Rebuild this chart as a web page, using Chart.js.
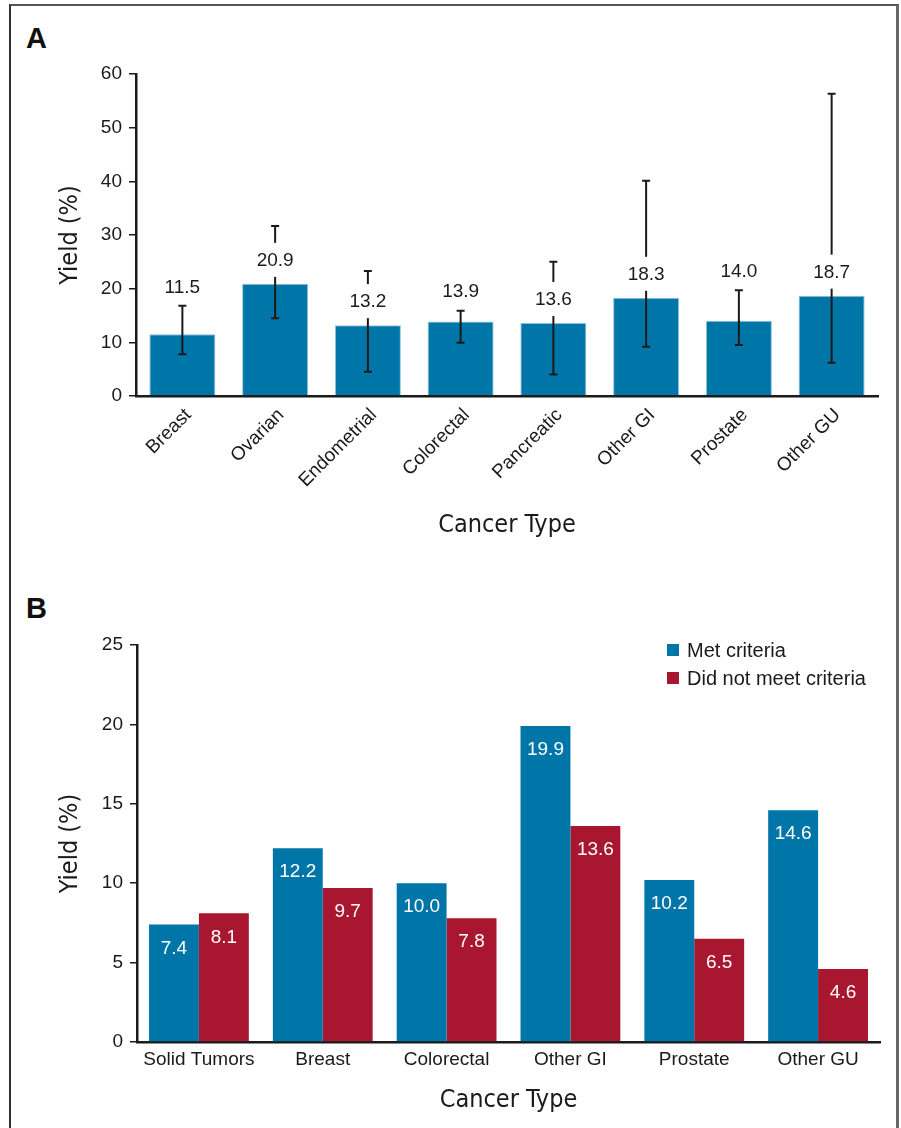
<!DOCTYPE html>
<html><head><meta charset="utf-8">
<script src="https://cdn.jsdelivr.net/npm/chart.js@4.4.0/dist/chart.umd.min.js"></script>
<style>
html,body{margin:0;padding:0;background:#fff;}
#wrap{position:relative;width:901px;height:1128px;overflow:hidden;background:#fff;}
#frame{position:absolute;left:9px;top:4px;width:885px;height:1140px;border-left:2px solid #333;border-top:2px solid #555;border-right:3px solid #666;}
.panel{position:absolute;left:26px;font-family:"Liberation Sans",Arial,sans-serif;font-weight:bold;font-size:29px;line-height:29px;color:#111;}
canvas{position:absolute;left:0;}
</style></head>
<body>
<div id="wrap">
  <div id="frame"></div>
  <div class="panel" style="top:24px">A</div>
  <div class="panel" style="top:594px">B</div>
  <canvas id="cA" width="901" height="570" style="top:0"></canvas>
  <canvas id="cB" width="901" height="548" style="top:580px"></canvas>
</div>
<script>
// ---------- data ----------
const categoriesA = ['Breast','Ovarian','Endometrial','Colorectal','Pancreatic','Other GI','Prostate','Other GU'];
const yieldA = [11.5, 20.9, 13.2, 13.9, 13.6, 18.3, 14.0, 18.7];
const ciLowA = [7.8, 14.5, 4.5, 9.9, 4.0, 9.2, 9.5, 6.2];
const ciHighA = [16.8, 31.7, 23.3, 15.9, 25.0, 40.1, 19.7, 56.3];
const yTicksA = [0, 10, 20, 30, 40, 50, 60];

const categoriesB = ['Solid Tumors','Breast','Colorectal','Other GI','Prostate','Other GU'];
const metB = [7.4, 12.2, 10.0, 19.9, 10.2, 14.6];
const notMetB = [8.1, 9.7, 7.8, 13.6, 6.5, 4.6];
const seriesNamesB = ['Met criteria', 'Did not meet criteria'];
const yTicksB = [0, 5, 10, 15, 20, 25];

const xTitle = 'Cancer Type';
const yTitle = 'Yield (%)';

// ---------- styles ----------
const BLUE = '#0076A8';
const RED = '#A8172F';
const INK = '#1a1a1a';
const FONT = '"Liberation Sans", Arial, sans-serif';
const CFONT = '"Liberation Sans Narrow", "DejaVu Sans Condensed", sans-serif';

const errorBarPlugin = {
  id: 'errorBarsA',
  afterDatasetsDraw(chart) {
    const ctx = chart.ctx;
    const meta = chart.getDatasetMeta(0);
    const ys = chart.scales.y;
    ctx.save();
    meta.data.forEach((bar, i) => {
      const x = bar.x;
      const top = bar.y;
      const hi = ys.getPixelForValue(ciHighA[i]);
      const lo = ys.getPixelForValue(ciLowA[i]);
      ctx.strokeStyle = INK;
      ctx.lineWidth = 2;
      ctx.beginPath();
      ctx.moveTo(x, hi); ctx.lineTo(x, lo);
      ctx.moveTo(x - 4, hi); ctx.lineTo(x + 4, hi);
      ctx.moveTo(x - 4, lo); ctx.lineTo(x + 4, lo);
      ctx.stroke();
      let ly;
      if (top - hi < 41) {
        ly = hi - 19.5;
      } else {
        ly = top - 24;
        ctx.fillStyle = '#fff';
        ctx.fillRect(x - 26, ly - 17, 52, 34);
      }
      ctx.fillStyle = INK;
      ctx.font = '19px ' + FONT;
      ctx.textAlign = 'center';
      ctx.textBaseline = 'middle';
      ctx.fillText(yieldA[i].toFixed(1), x, ly + 1);
    });
    ctx.restore();
  }
};

const chartA = new Chart(document.getElementById('cA'), {
  type: 'bar',
  data: {
    labels: categoriesA,
    datasets: [{
      data: yieldA,
      backgroundColor: BLUE,
      borderColor: '#8fc3dd',
      borderWidth: 1,
      barPercentage: 0.712,
      categoryPercentage: 1.0
    }]
  },
  options: {
    responsive: false,
    animation: false,
    devicePixelRatio: 1,
    layout: { padding: { left: 0, right: 23, top: 74, bottom: 9 } },
    plugins: { legend: { display: false }, tooltip: { enabled: false } },
    scales: {
      x: {
        grid: { display: false, drawTicks: false },
        border: { display: true, color: INK, width: 2.5 },
        ticks: { color: INK, font: { family: FONT, size: 19 }, maxRotation: 45, minRotation: 45, padding: 8, labelOffset: 6, autoSkip: false },
        title: { display: true, text: xTitle, color: INK, font: { family: CFONT, size: 25 }, padding: { top: 0, bottom: 21 } },
        afterFit(s) { s.height = 165; }
      },
      y: {
        min: 0, max: 60,
        afterBuildTicks(s) { s.ticks = yTicksA.map(v => ({ value: v })); },
        grid: { drawOnChartArea: false, drawTicks: true, tickLength: 7, color: INK, lineWidth: 1.5 },
        border: { display: true, color: INK, width: 2.5 },
        ticks: { color: INK, font: { family: FONT, size: 19 }, padding: 7 },
        title: { display: true, text: yTitle, color: INK, font: { family: CFONT, size: 25 }, padding: { top: 55, bottom: 0 } },
        afterFit(s) { s.width = 136; }
      }
    }
  },
  plugins: [errorBarPlugin]
});

const innerLabelsB = {
  id: 'innerLabelsB',
  afterDatasetsDraw(chart) {
    const ctx = chart.ctx;
    ctx.save();
    ctx.fillStyle = '#fff';
    ctx.font = '19px ' + FONT;
    ctx.textAlign = 'center';
    ctx.textBaseline = 'middle';
    chart.data.datasets.forEach((ds, di) => {
      chart.getDatasetMeta(di).data.forEach((bar, i) => {
        ctx.fillText(ds.data[i].toFixed(1), bar.x, bar.y + 24);
      });
    });
    ctx.restore();
  },
  afterDraw(chart) {
    const ctx = chart.ctx;
    ctx.save();
    ctx.font = '20px ' + FONT;
    ctx.textBaseline = 'middle';
    ctx.textAlign = 'left';
    chart.data.datasets.forEach((ds, di) => {
      const cy = 70 + di * 28;
      ctx.fillStyle = ds.backgroundColor;
      ctx.fillRect(667, cy - 6, 12, 12);
      ctx.fillStyle = INK;
      ctx.fillText(ds.label, 687, cy + 1);
    });
    ctx.restore();
  }
};

const chartB = new Chart(document.getElementById('cB'), {
  type: 'bar',
  data: {
    labels: categoriesB,
    datasets: [
      { label: seriesNamesB[0], data: metB, backgroundColor: BLUE, barPercentage: 1.0, categoryPercentage: 0.806 },
      { label: seriesNamesB[1], data: notMetB, backgroundColor: RED, barPercentage: 1.0, categoryPercentage: 0.806 }
    ]
  },
  options: {
    responsive: false,
    animation: false,
    devicePixelRatio: 1,
    layout: { padding: { left: 0, right: 21, top: 65, bottom: 8 } },
    plugins: { legend: { display: false }, tooltip: { enabled: false } },
    scales: {
      x: {
        grid: { display: false, drawTicks: false },
        border: { display: true, color: INK, width: 2.5 },
        ticks: { color: INK, font: { family: FONT, size: 19 }, padding: 6, maxRotation: 0, autoSkip: false },
        title: { display: true, text: xTitle, color: INK, font: { family: CFONT, size: 25 }, padding: { top: 0, bottom: 5 } },
        afterFit(s) { s.height = 78; }
      },
      y: {
        min: 0, max: 25,
        afterBuildTicks(s) { s.ticks = yTicksB.map(v => ({ value: v })); },
        grid: { drawOnChartArea: false, drawTicks: true, tickLength: 7, color: INK, lineWidth: 1.5 },
        border: { display: true, color: INK, width: 2.5 },
        ticks: { color: INK, font: { family: FONT, size: 19 }, padding: 7 },
        title: { display: true, text: yTitle, color: INK, font: { family: CFONT, size: 25 }, padding: { top: 55, bottom: 0 } },
        afterFit(s) { s.width = 137; }
      }
    }
  },
  plugins: [innerLabelsB]
});
</script>
</body></html>
